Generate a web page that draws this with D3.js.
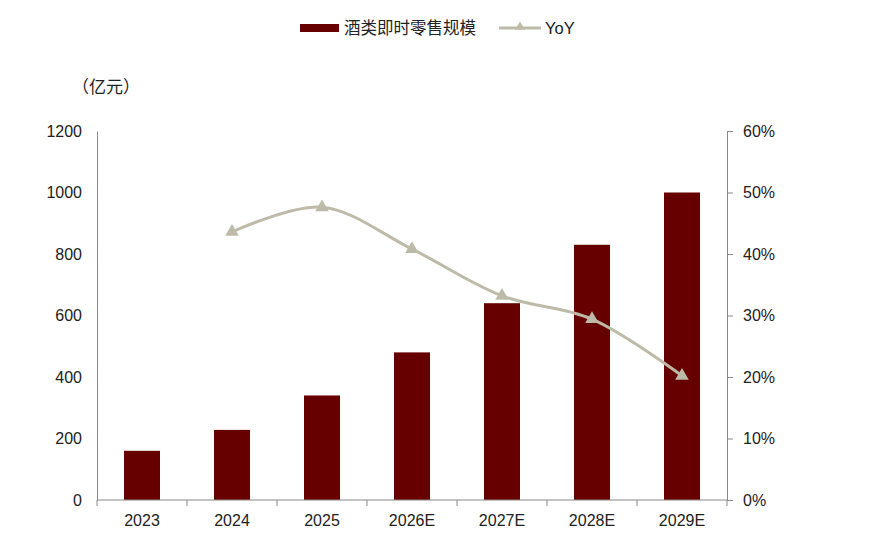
<!DOCTYPE html>
<html>
<head>
<meta charset="utf-8">
<script src="https://cdn.jsdelivr.net/npm/d3@7"></script>
<style>
  body { margin: 0; background: #fff; }
  text { font-family: "Liberation Sans", Arial, "Noto Sans CJK SC", sans-serif; fill: #222; }
  .cjk { font-family: "Noto Sans CJK SC", sans-serif; }
</style>
</head>
<body>
<div id="chart"></div>
<script>
const years = ['2023', '2024', '2025', '2026E', '2027E', '2028E', '2029E'];
const scale = [160, 228, 340, 480, 640, 830, 1000];
const yoyYears = ['2024', '2025', '2026E', '2027E', '2028E', '2029E'];
const yoy = [43.6, 47.6, 40.8, 33.2, 29.4, 20.2];
const leftTicks = [0, 200, 400, 600, 800, 1000, 1200];
const rightTicks = [0, 10, 20, 30, 40, 50, 60];

const width = 869, height = 553;
const margin = { top: 131, right: 142, bottom: 53, left: 97 };
const barColor = '#660000';
const lineColor = '#BDBBA8';
const axisColor = '#898989';

const svg = d3.select('#chart')
    .append('svg')
    .attr('width', width)
    .attr('height', height);

const x = d3.scaleBand()
    .domain(years)
    .range([margin.left, width - margin.right])
    .paddingInner(0.6)
    .paddingOuter(0.3);

const y = d3.scaleLinear()
    .domain([0, 1200])
    .range([height - margin.bottom, margin.top]);

const y2 = d3.scaleLinear()
    .domain([0, 60])
    .range([height - margin.bottom, margin.top]);

// Bars
svg.append('g')
    .selectAll('rect')
    .data(years)
    .join('rect')
    .attr('x', d => x(d))
    .attr('y', (d, i) => y(scale[i]))
    .attr('width', x.bandwidth())
    .attr('height', (d, i) => y(0) - y(scale[i]))
    .attr('fill', barColor);

// Left axis (no tick marks)
const leftAxis = svg.append('g')
    .attr('transform', `translate(${margin.left},0)`)
    .call(d3.axisLeft(y).tickValues(leftTicks).tickSize(0).tickPadding(15)
        .tickFormat(d => String(d)));
leftAxis.select('.domain').attr('stroke', axisColor);
leftAxis.selectAll('text').attr('font-size', 16).attr('fill', '#222');

// Right axis
const rightAxis = svg.append('g')
    .attr('transform', `translate(${width - margin.right},0)`)
    .call(d3.axisRight(y2).tickValues(rightTicks).tickSize(6).tickSizeOuter(0).tickPadding(10)
        .tickFormat(d => d + '%'));
rightAxis.select('.domain').attr('stroke', axisColor);
rightAxis.selectAll('line').attr('stroke', axisColor);
rightAxis.selectAll('text').attr('font-size', 16).attr('fill', '#222');

// Bottom axis with ticks between categories
const bottom = svg.append('g')
    .attr('transform', `translate(0,${y(0)})`);
bottom.append('line')
    .attr('x1', margin.left).attr('x2', width - margin.right)
    .attr('stroke', axisColor);
const step = x.step();
const bounds = d3.range(years.length + 1).map(i => margin.left + i * step);
bottom.selectAll('line.tick')
    .data(bounds)
    .join('line')
    .attr('class', 'tick')
    .attr('x1', d => d).attr('x2', d => d)
    .attr('y1', 0).attr('y2', 6)
    .attr('stroke', axisColor);
bottom.selectAll('text')
    .data(years)
    .join('text')
    .attr('x', d => x(d) + x.bandwidth() / 2)
    .attr('y', 26)
    .attr('text-anchor', 'middle')
    .attr('font-size', 16)
    .text(d => d);

// YoY line
const line = d3.line()
    .x((d, i) => x(yoyYears[i]) + x.bandwidth() / 2)
    .y(d => y2(d))
    .curve(d3.curveCatmullRom.alpha(0.5));

svg.append('path')
    .datum(yoy)
    .attr('d', line)
    .attr('fill', 'none')
    .attr('stroke', lineColor)
    .attr('stroke-width', 3);

const tri = d3.symbol().type(d3.symbolTriangle).size(80);
svg.append('g')
    .selectAll('path')
    .data(yoy)
    .join('path')
    .attr('transform', (d, i) => `translate(${x(yoyYears[i]) + x.bandwidth() / 2},${y2(d)})`)
    .attr('d', tri)
    .attr('fill', lineColor);

// Unit label
svg.append('text')
    .attr('class', 'cjk')
    .attr('x', 72)
    .attr('y', 93)
    .attr('font-size', 17)
    .text('（亿元）');

// Legend
const legend = svg.append('g');
legend.append('rect')
    .attr('x', 300).attr('y', 24)
    .attr('width', 39).attr('height', 8)
    .attr('fill', barColor);
legend.append('text')
    .attr('x', 344).attr('y', 34)
    .attr('font-size', 16.5)
    .text('酒类即时零售规模');
legend.append('line')
    .attr('x1', 499).attr('x2', 541)
    .attr('y1', 28).attr('y2', 28)
    .attr('stroke', lineColor)
    .attr('stroke-width', 3);
legend.append('path')
    .attr('transform', 'translate(520,27)')
    .attr('d', d3.symbol().type(d3.symbolTriangle).size(40))
    .attr('fill', lineColor);
legend.append('text')
    .attr('x', 545).attr('y', 34)
    .attr('font-size', 16.5)
    .text('YoY');
</script>
</body>
</html>
